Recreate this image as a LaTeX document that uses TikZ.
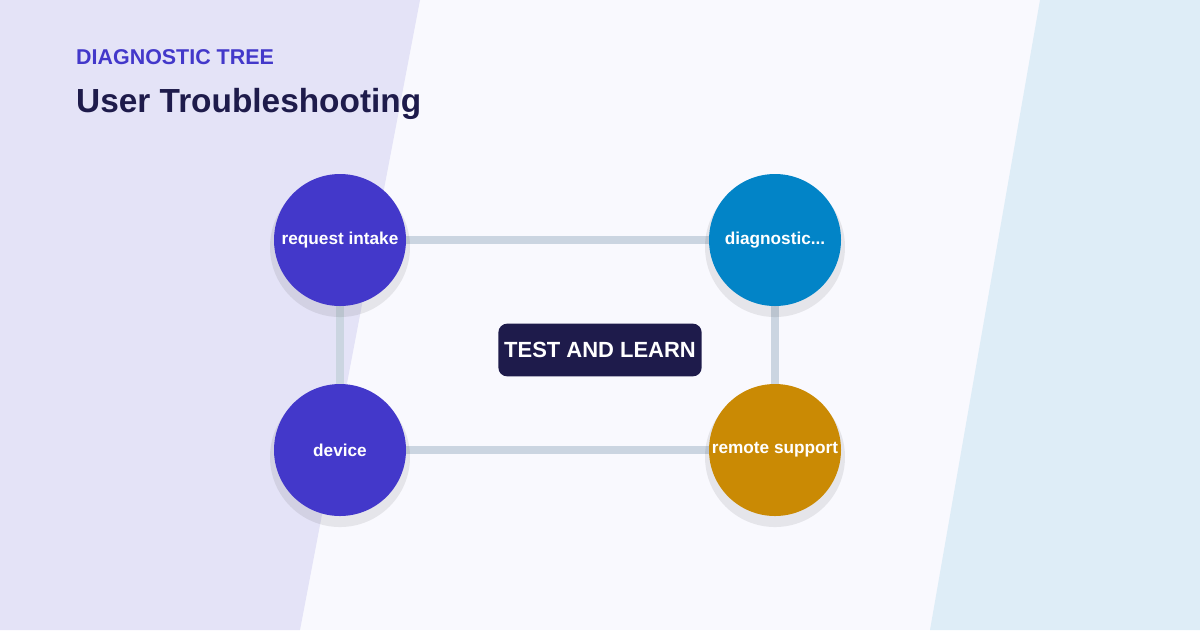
\documentclass[tikz,border=0pt]{standalone}
\usepackage{fontspec}
\setmainfont{Liberation Sans}
\usetikzlibrary{positioning}
\definecolor{bgmain}{HTML}{F9F9FE}
\definecolor{bgleft}{HTML}{E4E3F7}
\definecolor{bgright}{HTML}{DEEDF7}
\definecolor{indigo}{HTML}{4338CA}
\definecolor{sky}{HTML}{0284C7}
\definecolor{amber}{HTML}{CA8A04}
\definecolor{navy}{HTML}{1E1B4B}
\definecolor{link}{HTML}{CBD5E1}
\begin{document}
\begin{tikzpicture}[x=0.02cm, y=-0.02cm]
\tikzset{Stage/.style = {circle, minimum size = 132\pgflinewidth, inner sep = 0pt,
                         text = white, font = \fontsize{9.8}{11}\selectfont\bfseries},
         Link/.style = {draw = link, line width = 4.5pt}}
\useasboundingbox (0,0) rectangle (1200,630);
\fill[bgmain] (0,0) rectangle (1200,630);
\fill[bgleft] (0,0) -- (420,0) -- (300,630) -- (0,630) -- cycle;
\fill[bgright] (1040,0) -- (1200,0) -- (1200,630) -- (930,630) -- cycle;
\node[anchor = base west, text = indigo, font = \fontsize{12.2}{14}\selectfont\bfseries] (kicker) at (70,64) {DIAGNOSTIC TREE};
\node[anchor = base west, text = navy, font = \fontsize{19}{22}\selectfont\bfseries] (title) at (70,112) {User Troubleshooting};
\draw[Link] (340,240) coordinate (a) -- (775,240) coordinate (b) -- (775,450) coordinate (d) -- (340,450) coordinate (c) -- cycle;
\foreach \p in {a,b,c,d}
  \fill[black, opacity = 0.08] ([yshift = -4pt]\p) circle (70);
\fill[indigo] (a) circle (66);
\fill[sky] (b) circle (66);
\fill[indigo] (c) circle (66);
\fill[amber] (d) circle (66);
\node[Stage] (intake) at (a) {request intake};
\node[Stage] (diag) at (b) {diagnostic...};
\node[Stage] (device) at (c) {device};
\node[Stage] (remote) at (d) {remote support};
\node[fill = navy, rounded corners = 5pt, text = white, minimum width = 250\pgflinewidth,
      minimum height = 75\pgflinewidth, font = \fontsize{12.5}{14}\selectfont\bfseries] (hub) at (600,350) {TEST AND LEARN};
\end{tikzpicture}
\end{document}
